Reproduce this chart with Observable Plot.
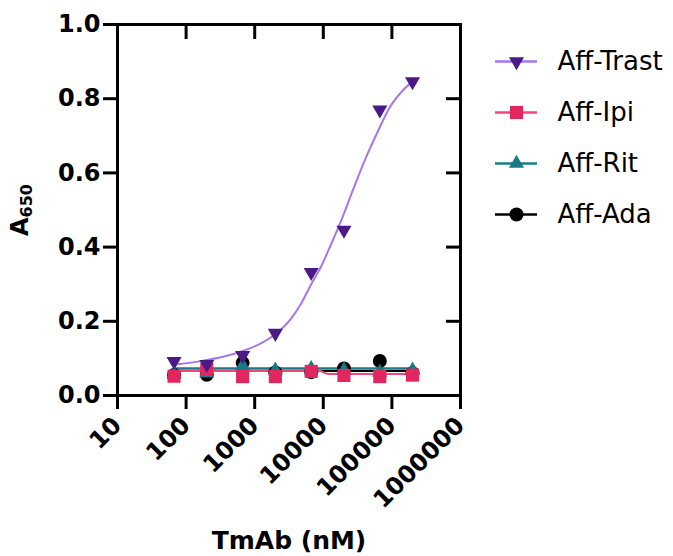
<!DOCTYPE html>
<html><head><meta charset="utf-8">
<script src="https://cdn.jsdelivr.net/npm/d3@7"></script>
<script src="https://cdn.jsdelivr.net/npm/@observablehq/plot@0.6"></script>
<style>
body{margin:0;background:#fff;}
#wrap{position:relative;width:673px;height:556px;overflow:hidden;}
#legend{position:absolute;left:480px;top:0;}
</style></head><body><div id="wrap"><div id="chart"></div><div id="legend"></div></div>
<script>
// ---- data ----
const series = ["Aff-Trast", "Aff-Ipi", "Aff-Rit", "Aff-Ada"];
const concentrations = [66.7, 200, 667, 2000, 6667, 20000, 66667, 200000];
const trastValues = [0.092, 0.084, 0.108, 0.168, 0.332, 0.446, 0.770, 0.846];
const ipiValues   = [0.052, 0.070, 0.051, 0.051, 0.065, 0.054, 0.051, 0.055];
const ritValues   = [0.056, 0.060, 0.080, 0.068, 0.072, 0.068, 0.062, 0.068];
const adaValues   = [0.055, 0.056, 0.088, 0.062, 0.063, 0.073, 0.093, 0.060];

// fitted curves
const trastFitConc = [66.7, 178, 489, 1213, 2000, 3325, 4660, 6667, 9140, 12800, 17900, 26800, 41500, 58200, 73600, 90100, 144000, 200000];
const trastFitA    = [0.083, 0.094, 0.112, 0.140, 0.165, 0.205, 0.245, 0.300, 0.345, 0.405, 0.468, 0.552, 0.640, 0.700, 0.740, 0.772, 0.822, 0.846];
const ipiFitConc = [66.7, 9000, 10500, 12000, 200000];
const ipiFitA    = [0.066, 0.066, 0.061, 0.058, 0.058];
const ritFitConc = [66.7, 200000];
const ritFitA    = [0.073, 0.073];
const adaFitConc = [66.7, 200000];
const adaFitA    = [0.066, 0.066];

const yTicks = [0, 0.2, 0.4, 0.6, 0.8, 1.0];
const xTicks = [10, 100, 1000, 10000, 100000, 1000000];

// ---- styles ----
const markerColors = {"Aff-Trast": "#4a1a86", "Aff-Ipi": "#e2275f", "Aff-Rit": "#167b86", "Aff-Ada": "#000000"};
const lineColors   = {"Aff-Trast": "#a876ea", "Aff-Ipi": "#f0487a", "Aff-Rit": "#177d88", "Aff-Ada": "#000000"};
const symbolOf     = {"Aff-Trast": "triangle", "Aff-Ipi": "square", "Aff-Rit": "triangle", "Aff-Ada": "circle"};
const rotateOf     = {"Aff-Trast": 180, "Aff-Ipi": 0, "Aff-Rit": 0, "Aff-Ada": 0};
const rOf          = {"Aff-Trast": 5.6, "Aff-Ipi": 7.4, "Aff-Rit": 5.6, "Aff-Ada": 7};

const valuesOf = {"Aff-Trast": trastValues, "Aff-Ipi": ipiValues, "Aff-Rit": ritValues, "Aff-Ada": adaValues};
const fitOf = {
  "Aff-Trast": [trastFitConc, trastFitA],
  "Aff-Ipi": [ipiFitConc, ipiFitA],
  "Aff-Rit": [ritFitConc, ritFitA],
  "Aff-Ada": [adaFitConc, adaFitA]
};
const pts = s => concentrations.map((c, i) => ({conc: c, a: valuesOf[s][i]}));
const fit = s => fitOf[s][0].map((c, i) => ({conc: c, a: fitOf[s][1][i]}));
const drawOrder = ["Aff-Ada", "Aff-Rit", "Aff-Ipi", "Aff-Trast"];

const chart = Plot.plot({
  width: 673, height: 556,
  marginLeft: 117, marginRight: 213, marginTop: 24, marginBottom: 161,
  style: {fontFamily: "DejaVu Sans", fontWeight: "bold", fontSize: "24px", color: "#000", background: "transparent"},
  x: {type: "log", domain: [10, 1e6]},
  y: {domain: [0, 1]},
  marks: [
    ...drawOrder.map(s => Plot.line(fit(s), {x: "conc", y: "a", stroke: lineColors[s], strokeWidth: s === "Aff-Rit" ? 2.5 : 2, curve: "monotone-x"})),
    ...drawOrder.map(s => Plot.dot(pts(s), {x: "conc", y: "a", symbol: symbolOf[s], rotate: rotateOf[s], r: rOf[s], fill: markerColors[s], stroke: "none"})),
    Plot.frame({stroke: "#000", strokeWidth: 3}),
    Plot.axisY({ticks: yTicks, tickFormat: d => d.toFixed(1), tickSize: 14, tickPadding: 3, strokeWidth: 3,
      label: "A650", labelAnchor: "center", labelOffset: 107, labelArrow: "none"}),
    Plot.axisY({anchor: "right", ticks: [0.2, 0.4, 0.6, 0.8], tickSize: -15, tickFormat: () => "", strokeWidth: 3, label: null}),
    Plot.axisX({ticks: xTicks, tickFormat: d3.format("d"), tickRotate: -45, tickSize: 14, tickPadding: 12, strokeWidth: 3,
      label: "TmAb (nM)", labelAnchor: "center", labelOffset: 153, labelArrow: "none"}),
    Plot.axisX({anchor: "top", ticks: [100, 1000, 10000, 100000], tickSize: -14, tickFormat: () => "", strokeWidth: 3, label: null})
  ]
});
document.getElementById("chart").appendChild(chart);

// subscript in y label
const yl = chart.querySelector('g[aria-label="y-axis label"] text');
if (yl) {
  yl.textContent = "A";
  const ts = document.createElementNS("http://www.w3.org/2000/svg", "tspan");
  ts.setAttribute("font-size", "16");
  ts.setAttribute("dy", "0.3em");
  ts.textContent = "650";
  yl.appendChild(ts);
}
const xl = chart.querySelector('g[aria-label="x-axis label"]');
if (xl) xl.setAttribute("font-size", "25");

// legend
const legend = Plot.plot({
  width: 193, height: 240, margin: 0,
  x: {domain: [0, 1], range: [15, 57]},
  y: {type: "point", domain: series, range: [60, 215], padding: 0},
  axis: null,
  style: {fontFamily: "DejaVu Sans", fontSize: "26px", background: "transparent", color: "#000"},
  marks: [
    ...series.map(s => Plot.ruleY([s], {y: d => d, x1: 0, x2: 1, stroke: lineColors[s], strokeWidth: 2.5})),
    ...series.map(s => Plot.dot([s], {x: 0.5, y: d => d, symbol: symbolOf[s], rotate: rotateOf[s], r: rOf[s], fill: markerColors[s]})),
    Plot.text(series, {x: 1, y: d => d, text: d => d, dx: 20, textAnchor: "start", fill: "#000"})
  ]
});
document.getElementById("legend").appendChild(legend);
</script></body></html>
